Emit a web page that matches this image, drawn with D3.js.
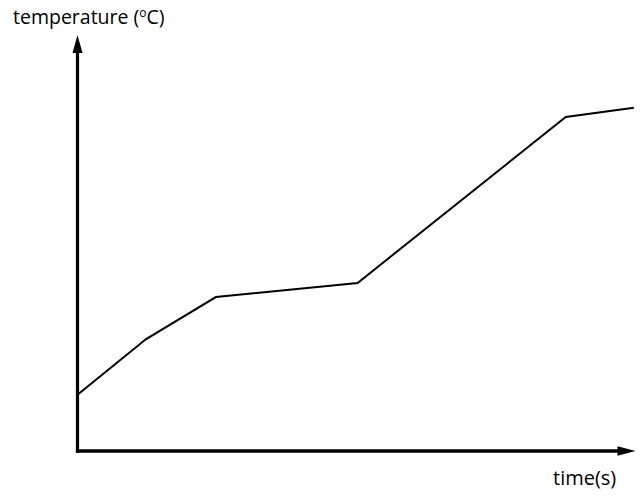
<!DOCTYPE html>
<html>
<head>
<meta charset="utf-8">
<script src="https://cdn.jsdelivr.net/npm/d3@7"></script>
<style>
  html, body { margin: 0; padding: 0; background: #fff; }
  svg { display: block; }
</style>
</head>
<body>
<svg id="chart" width="640" height="498"></svg>
<script>
// Data (arbitrary units; axes have no ticks)
const timeValues = [0, 12.3, 24.8, 50.2, 87.5, 99.7];
const temperatureValues = [13.5, 26.9, 37.0, 40.4, 80.3, 82.5];
const xAxisLabel = "time(s)";
const yAxisLabelMain = "temperature (";
const yAxisLabelSup = "o";
const yAxisLabelEnd = "C)";

const svg = d3.select("#chart");
const W = 640, H = 498;
svg.append("rect").attr("width", W).attr("height", H).attr("fill", "#fff");

const x = d3.scaleLinear().domain([0, 100]).range([77.5, 635.5]);
const y = d3.scaleLinear().domain([0, 100]).range([451, 35]);

const axisColor = "#000";

// y axis shaft
svg.append("line")
  .attr("x1", x(0)).attr("y1", y(0) + 1.8)
  .attr("x2", x(0)).attr("y2", y(100) + 16)
  .attr("stroke", axisColor).attr("stroke-width", 3.2);
// y arrowhead
svg.append("path")
  .attr("d", `M${x(0)},${y(100)} L${x(0) - 5},${y(100) + 18} L${x(0) + 5},${y(100) + 18} Z`)
  .attr("fill", axisColor);

// x axis shaft
svg.append("line")
  .attr("x1", x(0) - 1.6).attr("y1", y(0))
  .attr("x2", x(100) - 16).attr("y2", y(0))
  .attr("stroke", axisColor).attr("stroke-width", 3.6);
// x arrowhead
svg.append("path")
  .attr("d", `M${x(100)},${y(0)} L${x(100) - 18},${y(0) - 4.8} L${x(100) - 18},${y(0) + 4.8} Z`)
  .attr("fill", axisColor);

// data line
const pts = timeValues.map((t, i) => [t, temperatureValues[i]]);
const line = d3.line().x(d => x(d[0])).y(d => y(d[1]));
svg.append("path")
  .datum(pts)
  .attr("d", line)
  .attr("fill", "none")
  .attr("stroke", "#000")
  .attr("stroke-width", 2)
  .attr("stroke-linejoin", "miter");

// labels
const font = "'Open Sans', 'Liberation Sans', Arial, sans-serif";
const yl = svg.append("text")
  .attr("x", 13).attr("y", 24)
  .attr("font-family", font).attr("font-size", 19.5)
  .attr("fill", "#000");
yl.append("tspan").text(yAxisLabelMain);
yl.append("tspan").attr("font-size", 12).attr("dy", -7).text(yAxisLabelSup);
yl.append("tspan").attr("dy", 7).text(yAxisLabelEnd);

svg.append("text")
  .attr("x", 553).attr("y", 485)
  .attr("font-family", font).attr("font-size", 20)
  .attr("fill", "#000")
  .text(xAxisLabel);
</script>
</body>
</html>
